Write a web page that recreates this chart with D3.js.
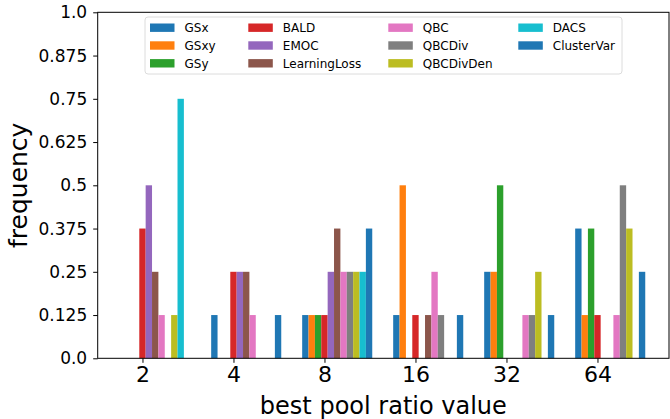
<!DOCTYPE html>
<html>
<head>
<meta charset="utf-8">
<script src="https://cdn.jsdelivr.net/npm/d3@7"></script>
<style>
body { margin: 0; background: #fff; }
svg { display: block; font-family: "DejaVu Sans", sans-serif; }
.axis path, .axis line { stroke: #000; }
</style>
</head>
<body>
<div id="chart"></div>
<script>
var categories = ["2", "4", "8", "16", "32", "64"];
var series_names = ["GSx", "GSxy", "GSy", "BALD", "EMOC", "LearningLoss",
    "QBC", "QBCDiv", "QBCDivDen", "DACS", "ClusterVar"];
var series_colors = ["#1f77b4", "#ff7f0e", "#2ca02c", "#d62728", "#9467bd", "#8c564b",
    "#e377c2", "#7f7f7f", "#bcbd22", "#17becf", "#1f77b4"];

// frequency of each method per pool ratio (rows follow series_names)
var GSx = [0, 0.125, 0.125, 0.125, 0.25, 0.375];
var GSxy = [0, 0, 0.125, 0.5, 0.25, 0.125];
var GSy = [0, 0, 0.125, 0, 0.5, 0.375];
var BALD = [0.375, 0.25, 0.125, 0.125, 0, 0.125];
var EMOC = [0.5, 0.25, 0.25, 0, 0, 0];
var LearningLoss = [0.25, 0.25, 0.375, 0.125, 0, 0];
var QBC = [0.125, 0.125, 0.25, 0.25, 0.125, 0.125];
var QBCDiv = [0, 0, 0.25, 0.125, 0.125, 0.5];
var QBCDivDen = [0.125, 0, 0.25, 0, 0.25, 0.375];
var DACS = [0.75, 0, 0.25, 0, 0, 0];
var ClusterVar = [0, 0.125, 0.375, 0.125, 0.125, 0.25];
var series_values = [GSx, GSxy, GSy, BALD, EMOC, LearningLoss, QBC, QBCDiv, QBCDivDen, DACS, ClusterVar];

var y_ticks = [0, 0.125, 0.25, 0.375, 0.5, 0.625, 0.75, 0.875, 1.0];
var y_tick_labels = ["0.0", "0.125", "0.25", "0.375", "0.5", "0.625", "0.75", "0.875", "1.0"];

var width = 670, height = 419;
var plot = { left: 97.7, right: 669, top: 12.3, bottom: 358.3 };
var bar_width = 0.07;

var svg = d3.select("#chart").append("svg")
    .attr("width", width)
    .attr("height", height);

var xScale = d3.scaleLinear()
    .domain([-0.492, 5.786])
    .range([plot.left, plot.right]);

var yScale = d3.scaleLinear()
    .domain([0, 1])
    .range([plot.bottom, plot.top]);

// bars
var bar_data = [];
for (var i = 0; i < series_names.length; i++) {
    for (var j = 0; j < categories.length; j++) {
        bar_data.push({ s: i, g: j, v: series_values[i][j] });
    }
}

svg.append("g").selectAll("rect")
    .data(bar_data.filter(function(d) { return d.v > 0; }))
    .enter()
    .append("rect")
    .attr("x", function(d) { return xScale(d.g + (d.s - 3.5) * bar_width); })
    .attr("width", function(d) { return xScale(bar_width) - xScale(0); })
    .attr("y", function(d) { return yScale(d.v); })
    .attr("height", function(d) { return yScale(0) - yScale(d.v); })
    .style("fill", function(d) { return series_colors[d.s]; });

// axes
var xAxis = d3.axisBottom(xScale)
    .tickValues(d3.range(categories.length))
    .tickFormat(function(d) { return categories[d]; })
    .tickSize(4.5)
    .tickPadding(4)
    .tickSizeOuter(0);

var yAxis = d3.axisLeft(yScale)
    .tickValues(y_ticks)
    .tickFormat(function(d, i) { return y_tick_labels[i]; })
    .tickSize(4.5)
    .tickPadding(6)
    .tickSizeOuter(0);

var gx = svg.append("g")
    .attr("class", "axis")
    .attr("transform", "translate(0," + plot.bottom + ")")
    .call(xAxis);
gx.select(".domain").remove();
gx.selectAll("text").style("font-size", "22px").style("fill", "#000")
    .style("font-family", "DejaVu Sans");

var gy = svg.append("g")
    .attr("class", "axis")
    .attr("transform", "translate(" + plot.left + ",0)")
    .call(yAxis);
gy.select(".domain").remove();
gy.selectAll("text").style("font-size", "17px").style("fill", "#000")
    .style("font-family", "DejaVu Sans");

// spines
svg.append("rect")
    .attr("x", plot.left)
    .attr("y", plot.top)
    .attr("width", plot.right - plot.left)
    .attr("height", plot.bottom - plot.top)
    .style("fill", "none")
    .style("stroke", "#000")
    .style("stroke-width", 1);

// axis labels
svg.append("text")
    .attr("x", (plot.left + plot.right) / 2)
    .attr("y", 414)
    .attr("text-anchor", "middle")
    .style("font-size", "24px")
    .text("best pool ratio value");

svg.append("text")
    .attr("transform", "translate(27," + ((plot.top + plot.bottom) / 2) + ") rotate(-90)")
    .attr("text-anchor", "middle")
    .style("font-size", "25px")
    .text("frequency");

// legend
var legend_box = { x: 145, y: 17, w: 477, h: 57 };
var col_x = [150, 248.3, 388.3, 518.3];
var row_y0 = 27.7, row_step = 17.8;

var legend = svg.append("g");
legend.append("rect")
    .attr("x", legend_box.x)
    .attr("y", legend_box.y)
    .attr("width", legend_box.w)
    .attr("height", legend_box.h)
    .attr("rx", 3)
    .style("fill", "rgba(255,255,255,0.8)")
    .style("stroke", "#dcdcdc")
    .style("stroke-width", 1);

var items = legend.selectAll("g.item")
    .data(series_names)
    .enter()
    .append("g")
    .attr("transform", function(d, i) {
        return "translate(" + col_x[Math.floor(i / 3)] + "," + (row_y0 + (i % 3) * row_step) + ")";
    });

items.append("rect")
    .attr("x", 0)
    .attr("y", -4.2)
    .attr("width", 24.5)
    .attr("height", 8.4)
    .style("fill", function(d, i) { return series_colors[i]; });

items.append("text")
    .attr("x", 34.5)
    .attr("y", 4.4)
    .style("font-size", "12px")
    .style("fill", "#000")
    .text(function(d) { return d; });
</script>
</body>
</html>
